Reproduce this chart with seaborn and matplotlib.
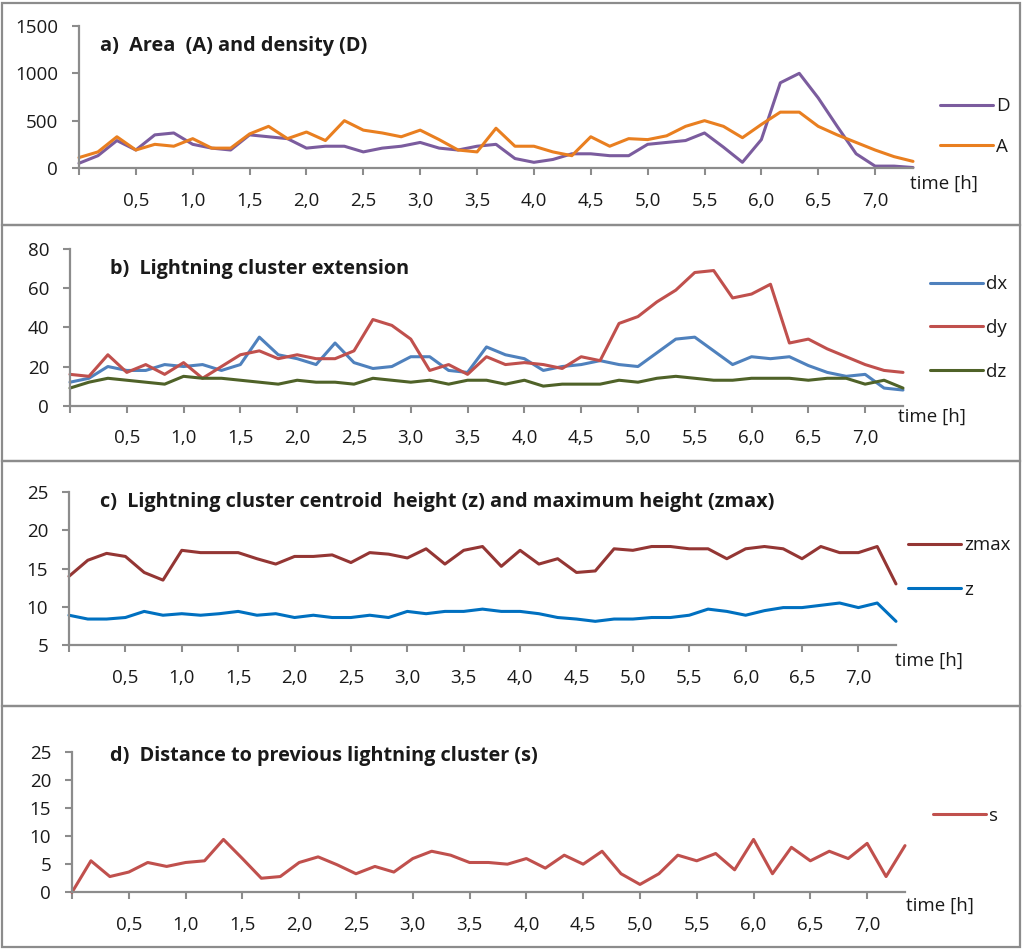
import numpy as np
import pandas as pd
import matplotlib
matplotlib.use("Agg")
import matplotlib.pyplot as plt
from matplotlib.patches import Rectangle
import seaborn as sns

# ---------------- data ----------------
n_points = 45
time_h = np.arange(n_points) / 6.0   # 10-minute steps

D = [50, 130, 290, 190, 350, 370, 250, 210, 190, 350, 330, 310, 210, 230, 230,
     170, 210, 230, 270, 210, 190, 230, 250, 100, 60, 90, 150, 150, 130, 130,
     250, 270, 290, 370, 220, 60, 300, 900, 1000, 740, 440, 150, 20, 20, 5]
A = [110, 170, 330, 190, 250, 230, 310, 210, 210, 360, 440, 310, 380, 290, 500,
     400, 370, 330, 400, 300, 190, 170, 420, 230, 230, 170, 130, 330, 230, 310,
     300, 340, 440, 500, 440, 320, 460, 590, 590, 440, 350, 270, 190, 120, 70]

dx = [12, 14, 20, 18, 18, 21, 20, 21, 18, 21, 35, 26, 24, 21, 32,
      22, 19, 20, 25, 25, 18, 17, 30, 26, 24, 18, 20, 21, 23, 21,
      20, 27, 34, 35, 28, 21, 25, 24, 25, 20.5, 17, 15, 16, 9, 8]
dy = [16, 15, 26, 17, 21, 16, 22, 14, 20, 26, 28, 24, 26, 24, 24,
      28, 44, 41, 34, 18, 21, 16, 25, 21, 22, 21, 19, 25, 23, 42,
      45.5, 53, 59, 68, 69, 55, 57, 62, 32, 34, 29, 25, 21, 18, 17]
dz = [9, 12, 14, 13, 12, 11, 15, 14, 14, 13, 12, 11, 13, 12, 12,
      11, 14, 13, 12, 13, 11, 13, 13, 11, 13, 10, 11, 11, 11, 13,
      12, 14, 15, 14, 13, 13, 14, 14, 14, 13, 14, 14, 11, 13, 9]

zmax = [14.0, 16.1, 17.0, 16.6, 14.5, 13.5, 17.4, 17.1, 17.1, 17.1, 16.3, 15.6, 16.6, 16.6, 16.8,
        15.8, 17.1, 16.9, 16.4, 17.6, 15.6, 17.4, 17.9, 15.3, 17.4, 15.6, 16.3, 14.5, 14.7, 17.6,
        17.4, 17.9, 17.9, 17.6, 17.6, 16.3, 17.6, 17.9, 17.6, 16.3, 17.9, 17.1, 17.1, 17.9, 13.0]
z = [8.9, 8.4, 8.4, 8.6, 9.4, 8.9, 9.1, 8.9, 9.1, 9.4, 8.9, 9.1, 8.6, 8.9, 8.6,
     8.6, 8.9, 8.6, 9.4, 9.1, 9.4, 9.4, 9.7, 9.4, 9.4, 9.1, 8.6, 8.4, 8.1, 8.4,
     8.4, 8.6, 8.6, 8.9, 9.7, 9.4, 8.9, 9.5, 9.9, 9.9, 10.2, 10.5, 9.9, 10.5, 8.1]

s = [0.0, 5.6, 2.8, 3.6, 5.3, 4.6, 5.3, 5.6, 9.4, 6.0, 2.5, 2.8, 5.3, 6.3, 4.9,
     3.3, 4.6, 3.6, 6.0, 7.3, 6.6, 5.3, 5.3, 5.0, 6.0, 4.3, 6.6, 5.0, 7.3, 3.3,
     1.4, 3.3, 6.6, 5.6, 6.9, 4.0, 9.4, 3.3, 8.0, 5.6, 7.3, 6.0, 8.7, 2.8, 8.3]

x_ticks = [0.0, 0.5, 1.0, 1.5, 2.0, 2.5, 3.0, 3.5, 4.0, 4.5, 5.0, 5.5, 6.0, 6.5, 7.0]
x_tick_labels = ["", "0,5", "1,0", "1,5", "2,0", "2,5", "3,0", "3,5", "4,0",
                 "4,5", "5,0", "5,5", "6,0", "6,5", "7,0"]

titles = ["a)  Area  (A) and density (D)",
          "b)  Lightning cluster extension",
          "c)  Lightning cluster centroid  height (z) and maximum height (zmax)",
          "d)  Distance to previous lightning cluster (s)"]

# ---------------- style ----------------
sns.set_style("white")
plt.rcParams["font.family"] = ["Open Sans", "DejaVu Sans"]

W, H = 1024, 950
fig = plt.figure(figsize=(W / 100, H / 100), dpi=100)
fig.patch.set_facecolor("white")

def fx(px):
    return px / W

def fy(py):
    return 1 - py / H

GRAY = "#8c8c8c"
TXT = "#1a1a1a"
TICK_FS = 13.5
TITLE_FS = 14.3

# panel boxes (pixel top, bottom)
boxes = [(3, 225), (225, 461), (461, 706), (706, 947)]
for top, bot in boxes:
    fig.add_artist(Rectangle((fx(2), fy(bot)), fx(1020) - fx(2), fy(top) - fy(bot),
                             transform=fig.transFigure, fill=False, ec=GRAY, lw=1.6))

# axes rectangles: left px, right px, top px, bottom px
axes_px = [(79, 913, 26, 168), (70, 903, 249, 405.7), (69, 896, 492.3, 645), (72, 905, 751.7, 892.3)]
ylims = [(0, 1500), (0, 80), (5, 25), (0, 25)]
yticks = [[0, 500, 1000, 1500], [0, 20, 40, 60, 80], [5, 10, 15, 20, 25], [0, 5, 10, 15, 20, 25]]

series = [
    [("D", D, "#7B5C9E"), ("A", A, "#E97F20")],
    [("dx", dx, "#4F81BD"), ("dy", dy, "#C0504D"), ("dz", dz, "#4F6228")],
    [("zmax", zmax, "#943634"), ("z", z, "#0070C0")],
    [("s", s, "#C0504D")],
]

title_pos = [(100, 46), (110, 269), (100, 502), (110, 756)]
timelabel_pos = [(910, 184), (898, 417), (895, 661), (906, 906)]
legend_pos = [(940, 126.5), (930, 328), (908, 567.5), (933, 816)]
legend_spacing = [1.19, 1.37, 1.4, 1.3]

for k in range(4):
    l, r, t, b = axes_px[k]
    ax = fig.add_axes([fx(l), fy(b), fx(r) - fx(l), fy(t) - fy(b)])
    ax.set_facecolor("none")
    for name, vals, col in series[k]:
        df = pd.DataFrame({"t": time_h, "v": vals})
        sns.lineplot(data=df, x="t", y="v", ax=ax, color=col, lw=2.2, label=name,
                     clip_on=False)
    ax.set_xlim(0, time_h[-1])
    ax.set_ylim(*ylims[k])
    ax.set_yticks(yticks[k])
    ax.set_xticks(x_ticks)
    ax.set_xticklabels(x_tick_labels)
    ax.set_xlabel("")
    ax.set_ylabel("")
    for sp in ["top", "right"]:
        ax.spines[sp].set_visible(False)
    for sp in ["left", "bottom"]:
        ax.spines[sp].set_color(GRAY)
        ax.spines[sp].set_linewidth(1.6)
    ax.tick_params(axis="both", which="major", direction="out", length=5, width=1.5,
                   color=GRAY, labelsize=TICK_FS, labelcolor=TXT, left=True, bottom=True)
    ax.tick_params(axis="y", pad=10)
    ax.tick_params(axis="x", pad=12)
    leg = ax.legend(loc="center left", bbox_to_anchor=(fx(legend_pos[k][0]), fy(legend_pos[k][1])),
                    bbox_transform=fig.transFigure, frameon=False, fontsize=TICK_FS,
                    handlelength=2.8, handletextpad=0.2, labelspacing=legend_spacing[k],
                    borderpad=0, borderaxespad=0)
    for txt in leg.get_texts():
        txt.set_color(TXT)
    for line in leg.get_lines():
        line.set_linewidth(2.2)
    fig.text(fx(title_pos[k][0]), fy(title_pos[k][1]), titles[k], ha="left", va="center",
             fontsize=TITLE_FS, fontweight="bold", color=TXT)
    fig.text(fx(timelabel_pos[k][0]), fy(timelabel_pos[k][1]), "time [h]", ha="left", va="center",
             fontsize=TICK_FS, color=TXT)

fig.savefig("out.png", dpi=100, facecolor="white")
